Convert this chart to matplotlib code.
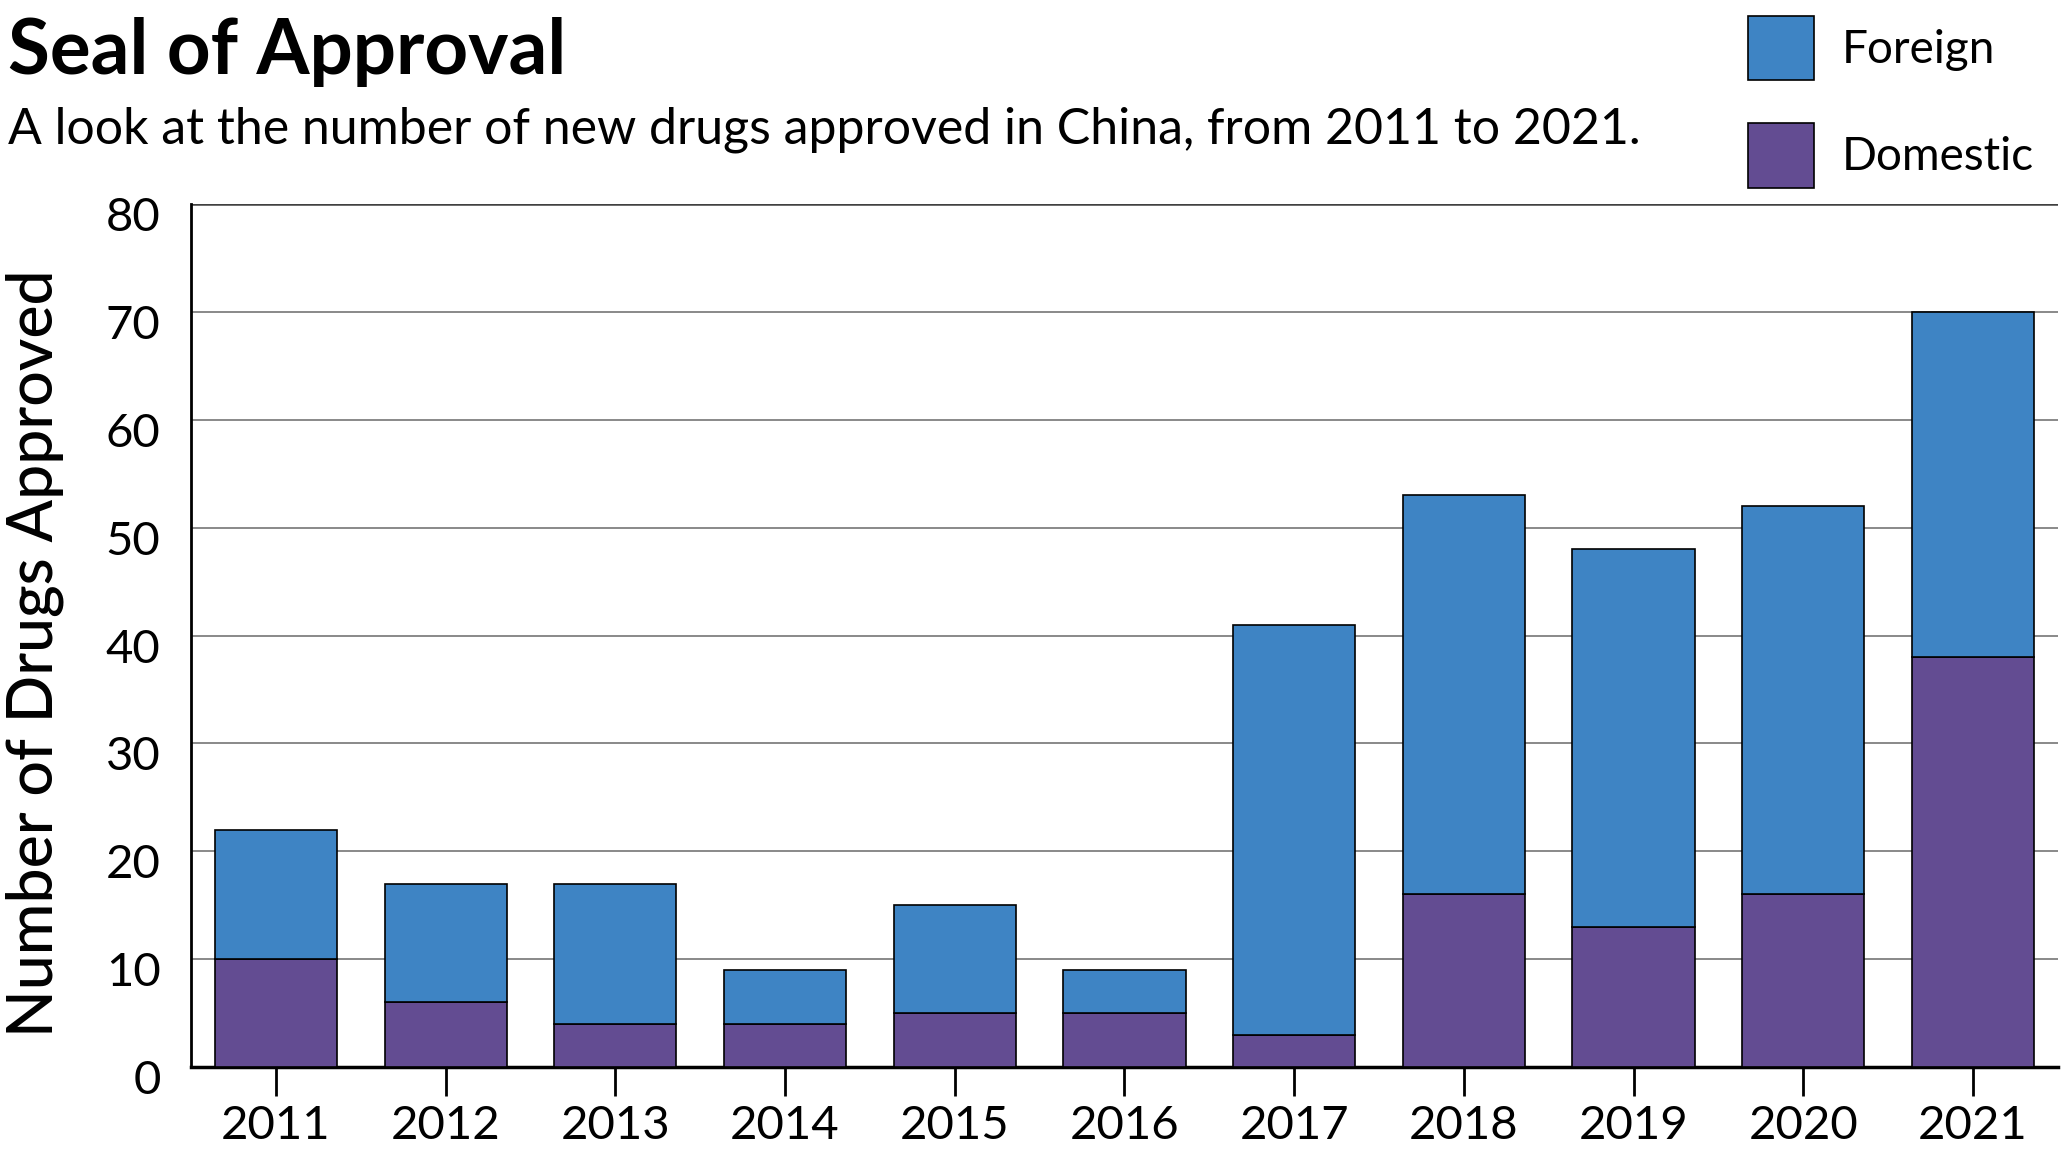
import matplotlib.pyplot as plt
import matplotlib.transforms as mtransforms
import numpy as np

plt.rcParams['font.family'] = ['Lato', 'DejaVu Sans']

# 数据
years = ['2011', '2012', '2013', '2014', '2015', '2016', '2017', '2018', '2019', '2020', '2021']
domestic = [10, 6, 4, 4, 5, 5, 3, 16, 13, 16, 38]
foreign = [12, 11, 13, 5, 10, 4, 38, 37, 35, 36, 32]

blue = '#3e84c4'
purple = '#634c92'

fig = plt.figure(figsize=(20.66, 11.63), dpi=100)
ax = fig.add_axes([0.0925, 0.0825, 0.9035, 0.742])

x = np.arange(len(years))
ax.bar(x, domestic, width=0.72, color=purple, edgecolor='black', linewidth=1.2,
       label='Domestic', zorder=3)
ax.bar(x, foreign, width=0.72, bottom=domestic, color=blue, edgecolor='black',
       linewidth=1.2, label='Foreign', zorder=3)

ax.set_xlim(-0.5, 10.5)
ax.set_ylim(0, 80)
ax.set_yticks(range(0, 81, 10))
ax.set_xticks(x)
ax.set_xticklabels(years)
ax.yaxis.grid(True, color='#808080', linewidth=1.3, zorder=0)
ax.set_axisbelow(True)

for s in ['top', 'right']:
    ax.spines[s].set_visible(False)
ax.spines['left'].set_linewidth(2)
ax.spines['bottom'].set_linewidth(2.5)
ax.axhline(80, color='#404040', linewidth=1.8, zorder=1)

ax.tick_params(axis='x', length=21, width=2, labelsize=34, pad=6)
ax.tick_params(axis='y', length=0, labelsize=34, pad=22)

# y轴刻度文字略微下移
offset = mtransforms.ScaledTranslation(0, -0.1, fig.dpi_scale_trans)
for lab in ax.get_yticklabels():
    lab.set_transform(lab.get_transform() + offset)

ax.set_ylabel('Number of Drugs Approved', fontsize=45, fontweight='medium')
ax.yaxis.set_label_coords(-0.068, 0.48)

fig.text(0.004, 0.936, 'Seal of Approval', fontsize=55, fontweight='bold', va='baseline')
fig.text(0.004, 0.877, 'A look at the number of new drugs approved in China, from 2011 to 2021.',
         fontsize=36, va='baseline')

h, l = ax.get_legend_handles_labels()
leg = fig.legend(h[::-1], l[::-1], loc='upper left', bbox_to_anchor=(0.826, 1.022),
                 frameon=False, fontsize=33, handlelength=1.44, handleheight=1.78,
                 labelspacing=0.95, handletextpad=0.6)

plt.savefig('out.png', dpi=100)
